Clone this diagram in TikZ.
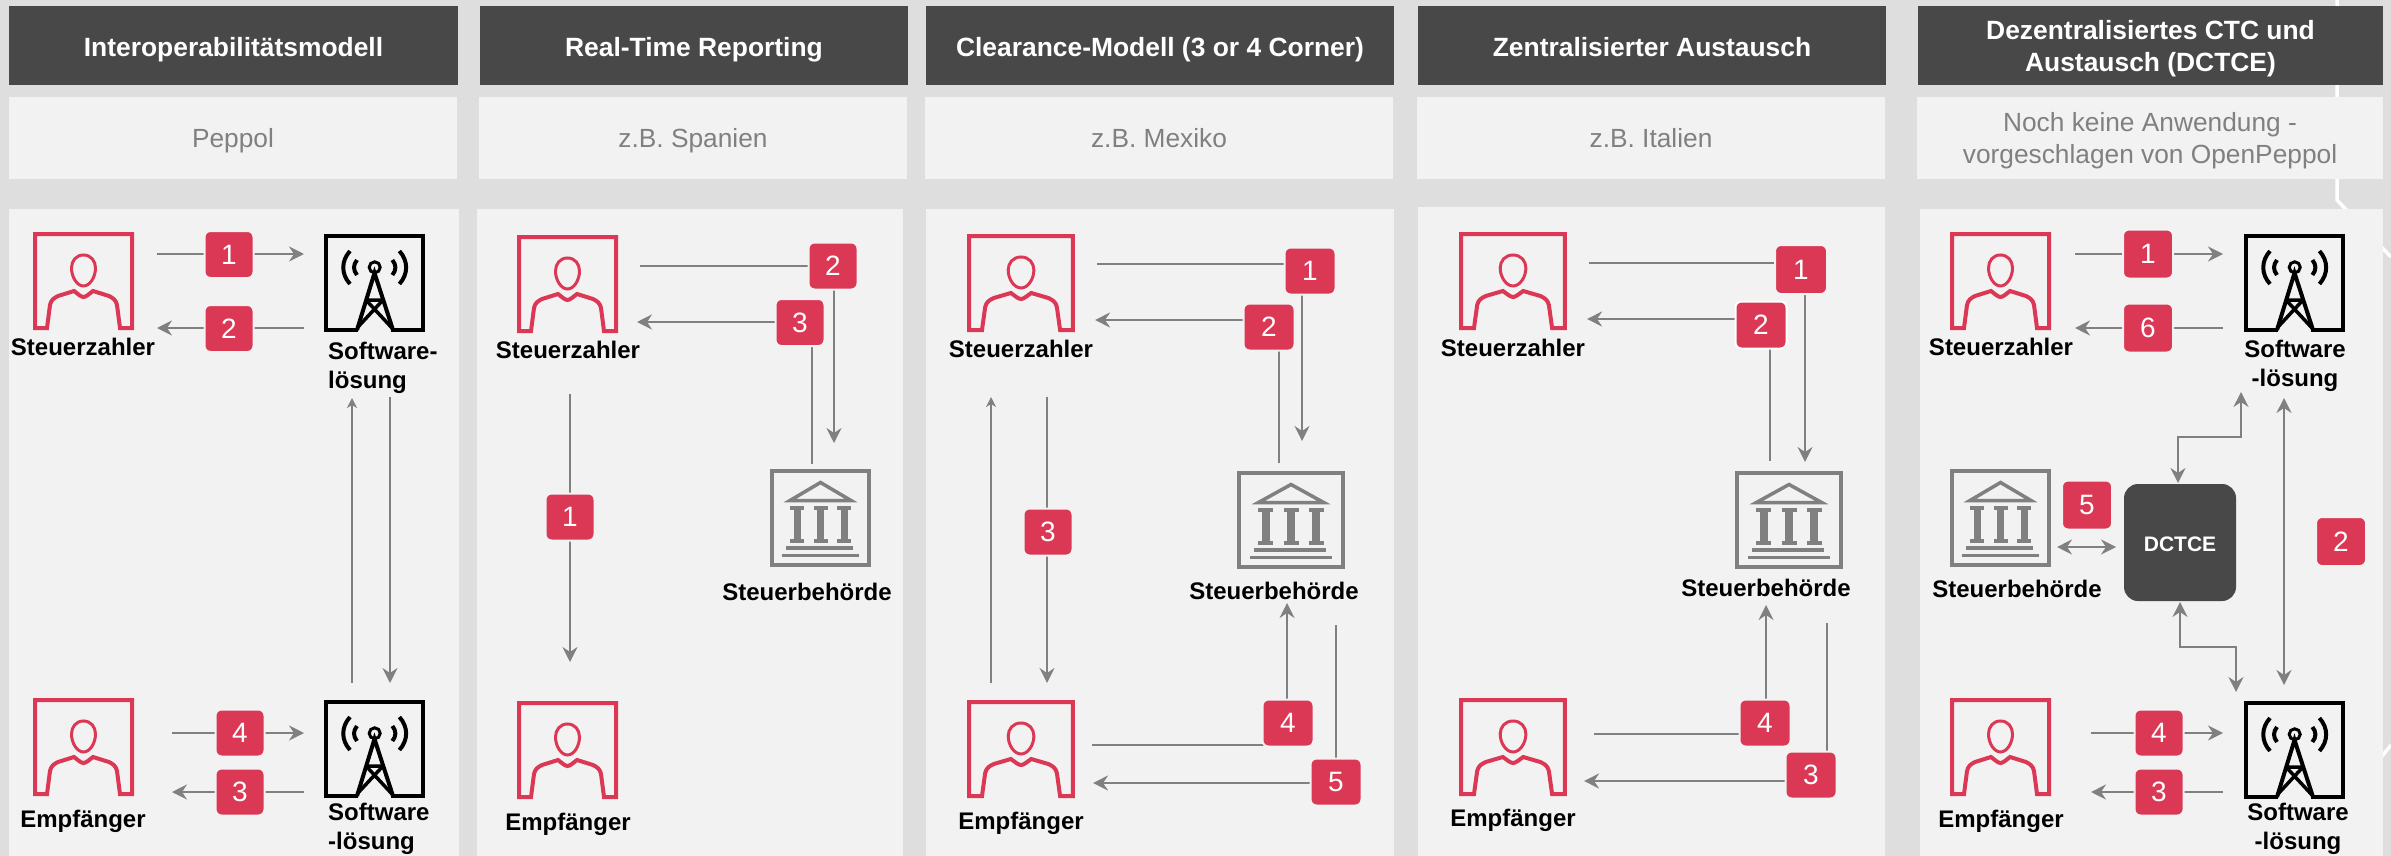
\documentclass[tikz,border=0pt]{standalone}
\usepackage{fontspec}
\setmainfont{Liberation Sans}
\usetikzlibrary{arrows.meta}
\definecolor{pagegray}{HTML}{DEDEDE}
\definecolor{panelgray}{HTML}{F2F2F2}
\definecolor{headgray}{HTML}{484848}
\definecolor{linegray}{HTML}{808080}
\definecolor{badgered}{HTML}{DB3856}

\begin{document}
\begin{tikzpicture}[x=1pt,y=-1pt]
    % Stile fuer Kaesten, Texte und Pfeile
    \tikzset{
        head_box/.style={
            fill=headgray,
            text=white,
            minimum height=79pt, % Hoehe der Kopfzeile
            align=center,
            inner sep=0pt,
            outer sep=0pt,
            text height=22pt,
            text depth=0pt,
            font=\fontsize{26.4}{32}\selectfont\bfseries
        },
        sub_box/.style={
            fill=panelgray,
            text=linegray,
            minimum height=82pt,
            align=center,
            inner sep=0pt,
            outer sep=0pt,
            text height=19pt,
            text depth=0pt,
            font=\fontsize{26.3}{32}\selectfont
        },
        panel_box/.style={
            fill=panelgray,
            minimum height=647pt,
            inner sep=0pt,
            outer sep=0pt
        },
        double_line/.style={
            text height={},
            text depth={}
        },
        icon_box/.style={
            transform shape,
            minimum width=101pt,
            minimum height=98pt,
            inner sep=0pt,
            outer sep=0pt
        },
        actor_label/.style={
            text=black,
            inner sep=0pt,
            text height=15.5pt,
            text depth=0pt,
            font=\fontsize{24}{29}\selectfont\bfseries
        },
        num_badge/.style={
            fill=badgered,
            draw=panelgray,
            line width=2pt,
            text=white,
            rounded corners=6pt,
            minimum width=49pt, % Breite mit Rand
            minimum height=47pt,
            inner sep=0pt,
            font=\fontsize{28}{32}\selectfont
        },
        flow_line/.style={
            draw=linegray,
            line width=2pt
        },
        flow_arrow/.style={
            flow_line,
            -{Stealth[length=15pt,width=15pt,inset=5pt]}
        },
        flow_small/.style={
            flow_line,
            -{Stealth[length=10pt,width=10pt,inset=3pt]}
        },
        flow_both/.style={
            flow_line,
            {Stealth[length=15pt,width=15pt,inset=5pt]}-{Stealth[length=15pt,width=15pt,inset=5pt]}
        },
        pics/payer_icon/.style={code={
            \node[icon_box] (-box) at (50.5,49) {};
            \draw[badgered,line width=4pt,miter limit=4]
                (14,96) -- (2,96) -- (2,2) -- (99,2) -- (99,96) -- (87,96) -- (84,73)
                .. controls (83,68) and (80,66) .. (76,64) -- (60,59)
                .. controls (56,62) and (53,65) .. (50.5,65)
                .. controls (48,65) and (45,62) .. (41,59) -- (25,64)
                .. controls (21,66) and (18,68) .. (17,73) -- cycle;
            \draw[badgered,line width=3pt]
                (50.5,23) .. controls (58,23) and (62.5,29) .. (62.5,36)
                .. controls (62.5,45) and (57,54) .. (50.5,54)
                .. controls (44,54) and (38.5,45) .. (38.5,36)
                .. controls (38.5,29) and (43,23) .. (50.5,23) -- cycle;
        }},
        pics/tower_icon/.style={code={
            \node[icon_box] (-box) at (50.5,49) {};
            \draw[black,line width=4pt]
                (34,96) -- (2,96) -- (2,2) -- (99,2) -- (99,96) -- (67,96);
            \draw[black,line width=4pt] (33,96) -- (50.5,39) -- (69,96);
            \draw[black,line width=3.5pt] (42,66) -- (59,66) (42,66) -- (68,94) (59,66) -- (33,94);
            \draw[black,line width=3pt] (50.7,33.3) circle (5.5);
            \draw[black,line width=4pt] (26,17) .. controls (17,27) and (17,40) .. (26,50);
            \draw[black,line width=4pt] (33,26) .. controls (29,31) and (29,36) .. (33,41);
            \draw[black,line width=4pt] (75.4,17) .. controls (84.4,27) and (84.4,40) .. (75.4,50);
            \draw[black,line width=4pt] (68.4,26) .. controls (72.4,31) and (72.4,36) .. (68.4,41);
        }},
        pics/office_icon/.style={code={
            \node[icon_box] (-box) at (50.5,49) {};
            \draw[linegray,line width=4pt] (2,2) rectangle (99,96);
            \draw[linegray,line width=3.5pt] (50.5,13.5) -- (20,31.5) -- (81,31.5) -- cycle;
            \foreach \colx in {27,50.5,74} {
                \fill[linegray] (\colx-7,37) rectangle (\colx+7,41);
                \fill[linegray] (\colx-3.5,41) rectangle (\colx+3.5,70);
                \fill[linegray] (\colx-7,70) rectangle (\colx+7,74);
            }
            \fill[linegray] (16,77) rectangle (83,80.5);
            \fill[linegray] (12,84.5) rectangle (89,88);
        }}
    }

    \fill[pagegray] (0,0) rectangle (2391,856);
    \useasboundingbox (0,0) rectangle (2391,856);

    % Weisse Linien im Hintergrund
    \draw[white,line width=3.5pt] (2337,0) -- (2337,200) -- (2391,257);
    \draw[white,line width=3.5pt] (2365,777) -- (2391,745);

    % Kopfzeilen
    \node[head_box,minimum width=449pt] (c1_head) at (233.5,45.5) {Interoperabilitätsmodell};
    \node[head_box,minimum width=428pt] (c2_head) at (694,45.5) {Real-Time Reporting};
    \node[head_box,minimum width=468pt] (c3_head) at (1160,45.5) {Clearance-Modell (3 or 4 Corner)};
    \node[head_box,minimum width=468pt] (c4_head) at (1652,45.5) {Zentralisierter Austausch};
    \node[head_box,double_line,minimum width=465pt,text depth=0pt] (c5_head) at (2150.5,45.5) {Dezentralisiertes CTC und\\Austausch (DCTCE)};

    % Laender
    \node[sub_box,minimum width=448pt] (c1_sub) at (233,138) {Peppol};
    \node[sub_box,minimum width=428pt] (c2_sub) at (693,138) {z.B. Spanien};
    \node[sub_box,minimum width=468pt] (c3_sub) at (1159,138) {z.B. Mexiko};
    \node[sub_box,minimum width=468pt] (c4_sub) at (1651,138) {z.B. Italien};
    \node[sub_box,double_line,minimum width=466pt,text depth=0pt] (c5_sub) at (2150,138) {Noch keine Anwendung -\\vorgeschlagen von OpenPeppol};

    % Felder
    \node[panel_box,minimum width=450pt] (c1_panel) at (234,532.5) {};
    \node[panel_box,minimum width=426pt] (c2_panel) at (690,532.5) {};
    \node[panel_box,minimum width=468pt] (c3_panel) at (1160,532.5) {};
    \node[panel_box,minimum width=467pt,minimum height=649pt] (c4_panel) at (1651.5,531.5) {};
    \node[panel_box,minimum width=463pt] (c5_panel) at (2151.5,532.5) {};

    % Spalte 1
    \pic (c1_payer) at (33,232) {payer_icon};
    \pic (c1_tower) at (324,234) {tower_icon};
    \pic (c1_receiver) at (33,698) {payer_icon};
    \pic (c1_rtower) at (324,700) {tower_icon};
    \node[actor_label] (c1_payer_label) at (83,348) {Steuerzahler};
    \node[actor_label,double_line,align=left,anchor=west] (c1_tower_label) at (328,368) {Software-\\lösung};
    \node[actor_label] (c1_receiver_label) at (83,820) {Empfänger};
    \node[actor_label,double_line,align=left,anchor=west] (c1_rtower_label) at (328,828.5) {Software\\-lösung};

    \draw[flow_arrow] ([shift={(73.5,-27)}]c1_payer-box.center) -- ([shift={(-70.5,-29)}]c1_tower-box.center);
    \draw[flow_arrow] ([shift={(-70.5,45)}]c1_tower-box.center) -- ([shift={(73.5,47)}]c1_payer-box.center);
    \draw[flow_small] ([shift={(-22.5,-66)}]c1_rtower-box.center) -- ([shift={(-22.5,115)}]c1_tower-box.center);
    \draw[flow_arrow] ([shift={(15.5,114)}]c1_tower-box.center) -- ([shift={(15.5,-66)}]c1_rtower-box.center);
    \draw[flow_arrow] ([shift={(88.5,-14)}]c1_receiver-box.center) -- ([shift={(-70.5,-16)}]c1_rtower-box.center);
    \draw[flow_arrow] ([shift={(-70.5,43)}]c1_rtower-box.center) -- ([shift={(88.5,45)}]c1_receiver-box.center);

    \node[num_badge] (c1_num1) at (229,254.5) {1};
    \node[num_badge] (c1_num2) at (229,328.5) {2};
    \node[num_badge] (c1_num4) at (240,733) {4};
    \node[num_badge] (c1_num3) at (240,792) {3};

    % Spalte 2
    \pic (c2_payer) at (517,235) {payer_icon};
    \pic (c2_office) at (770,469) {office_icon};
    \pic (c2_receiver) at (517,701) {payer_icon};
    \node[actor_label] (c2_payer_label) at (568,351) {Steuerzahler};
    \node[actor_label] (c2_office_label) at (807,593) {Steuerbehörde};
    \node[actor_label] (c2_receiver_label) at (568,823) {Empfänger};

    \draw[flow_arrow] ([shift={(72.5,-18)}]c2_payer-box.center) -| ([shift={(13.5,-75)}]c2_office-box.center);
    \draw[flow_arrow] ([shift={(-8.5,-54)}]c2_office-box.center) |- ([shift={(69.5,38)}]c2_payer-box.center);
    \draw[flow_arrow] ([shift={(2.5,110)}]c2_payer-box.center) -- ([shift={(2.5,-88)}]c2_receiver-box.center);

    \node[num_badge] (c2_num2) at (833,266) {2};
    \node[num_badge] (c2_num3) at (800,322.5) {3};
    \node[num_badge] (c2_num1) at (570,517) {1};

    % Spalte 3
    \pic[xscale=1.07] (c3_payer) at (967,234) {payer_icon};
    \pic[xscale=1.07] (c3_office) at (1237,471) {office_icon};
    \pic[xscale=1.07] (c3_receiver) at (967,700) {payer_icon};
    \node[actor_label] (c3_payer_label) at (1021,350) {Steuerzahler};
    \node[actor_label] (c3_office_label) at (1274,592) {Steuerbehörde};
    \node[actor_label] (c3_receiver_label) at (1021,822) {Empfänger};

    \draw[flow_arrow] ([shift={(76,-19)}]c3_payer-box.center) -| ([shift={(11,-79)}]c3_office-box.center);
    \draw[flow_arrow] ([shift={(-12,-57)}]c3_office-box.center) |- ([shift={(74,37)}]c3_payer-box.center);
    \draw[flow_small] ([shift={(-30,-66)}]c3_receiver-box.center) -- ([shift={(-30,114)}]c3_payer-box.center);
    \draw[flow_arrow] ([shift={(26,114)}]c3_payer-box.center) -- ([shift={(26,-66)}]c3_receiver-box.center);
    \draw[flow_arrow] ([shift={(71,-4)}]c3_receiver-box.center) -| ([shift={(-4,83)}]c3_office-box.center);
    \draw[flow_arrow] ([shift={(45,105)}]c3_office-box.center) |- ([shift={(72,34)}]c3_receiver-box.center);

    \node[num_badge,minimum width=51pt] (c3_num1) at (1310,271) {1};
    \node[num_badge,minimum width=51pt] (c3_num2) at (1269,327) {2};
    \node[num_badge,minimum width=49pt] (c3_num3) at (1048,532) {3};
    \node[num_badge,minimum width=51pt] (c3_num4) at (1288,723) {4};
    \node[num_badge,minimum width=51pt] (c3_num5) at (1336,782) {5};

    % Spalte 4
    \pic[xscale=1.07] (c4_payer) at (1459,232) {payer_icon};
    \pic[xscale=1.07] (c4_office) at (1735,471) {office_icon};
    \pic[xscale=1.07] (c4_receiver) at (1459,698) {payer_icon};
    \node[actor_label] (c4_payer_label) at (1513,349) {Steuerzahler};
    \node[actor_label] (c4_office_label) at (1766,589) {Steuerbehörde};
    \node[actor_label] (c4_receiver_label) at (1513,819) {Empfänger};

    \draw[flow_arrow] ([shift={(76,-18)}]c4_payer-box.center) -| ([shift={(16,-58)}]c4_office-box.center);
    \draw[flow_arrow] ([shift={(-19,-59)}]c4_office-box.center) |- ([shift={(74,38)}]c4_payer-box.center);
    \draw[flow_arrow] ([shift={(81,-13)}]c4_receiver-box.center) -| ([shift={(-23,85)}]c4_office-box.center);
    \draw[flow_arrow] ([shift={(38,103)}]c4_office-box.center) |- ([shift={(71,34)}]c4_receiver-box.center);

    \node[num_badge,minimum width=52pt,minimum height=49pt] (c4_num1) at (1801,269.5) {1};
    \node[num_badge,minimum width=51pt,draw=white] (c4_num2) at (1761,325) {2};
    \node[num_badge,minimum width=51pt] (c4_num4) at (1765,723) {4};
    \node[num_badge,minimum width=51pt] (c4_num3) at (1811,775) {3};

    % Spalte 5
    \pic (c5_payer) at (1950,232) {payer_icon};
    \pic (c5_tower) at (2244,234) {tower_icon};
    \pic (c5_office) at (1950,469) {office_icon};
    \pic (c5_receiver) at (1950,698) {payer_icon};
    \pic (c5_rtower) at (2244,701) {tower_icon};
    \node[fill=headgray,rounded corners=14pt,minimum width=112pt,minimum height=117pt,inner sep=0pt,outer sep=0pt,text=white,text height=18pt,text depth=0pt,font=\fontsize{21}{25}\selectfont\bfseries] (c5_dctce) at (2180,542.5) {DCTCE};
    \node[actor_label] (c5_payer_label) at (2001,348) {Steuerzahler};
    \node[actor_label,double_line,align=center] (c5_tower_label) at (2295,365.5) {Software\\-lösung};
    \node[actor_label] (c5_office_label) at (2017,590) {Steuerbehörde};
    \node[actor_label] (c5_receiver_label) at (2001,820) {Empfänger};
    \node[actor_label,double_line,align=center] (c5_rtower_label) at (2298,828.5) {Software\\-lösung};

    \draw[flow_arrow] ([shift={(74.5,-27)}]c5_payer-box.center) -- ([shift={(-71.5,-29)}]c5_tower-box.center);
    \draw[flow_arrow] ([shift={(-71.5,45)}]c5_tower-box.center) -- ([shift={(74.5,47)}]c5_payer-box.center);
    \draw[flow_arrow] ([shift={(90.5,-14)}]c5_receiver-box.center) -- ([shift={(-71.5,-17)}]c5_rtower-box.center);
    \draw[flow_arrow] ([shift={(-71.5,42)}]c5_rtower-box.center) -- ([shift={(90.5,45)}]c5_receiver-box.center);
    \draw[flow_both] ([shift={(56.5,29)}]c5_office-box.center) -- ([shift={(-64,4.5)}]c5_dctce.center);
    \draw[flow_both] ([shift={(-53.5,109)}]c5_tower-box.center) -- ++(0,45) -| ([shift={(-2,-59.5)}]c5_dctce.center);
    \draw[flow_both] ([shift={(-10.5,115)}]c5_tower-box.center) -- ([shift={(-10.5,-65)}]c5_rtower-box.center);
    \draw[flow_both] ([shift={(0,59.5)}]c5_dctce.center) -- ++(0,45) -| ([shift={(-58.5,-58)}]c5_rtower-box.center);

    \node[num_badge,minimum width=50pt,minimum height=49pt] (c5_num1) at (2148,254) {1};
    \node[num_badge,minimum width=50pt,minimum height=49pt] (c5_num6) at (2148,328) {6};
    \node[num_badge,minimum width=50pt,minimum height=49pt] (c5_num5) at (2087,505) {5};
    \node[num_badge,minimum width=50pt,minimum height=49pt] (c5_num2) at (2341,541.5) {2};
    \node[num_badge] (c5_num4) at (2159,733) {4};
    \node[num_badge] (c5_num3) at (2159,792) {3};

\end{tikzpicture}
\end{document}
